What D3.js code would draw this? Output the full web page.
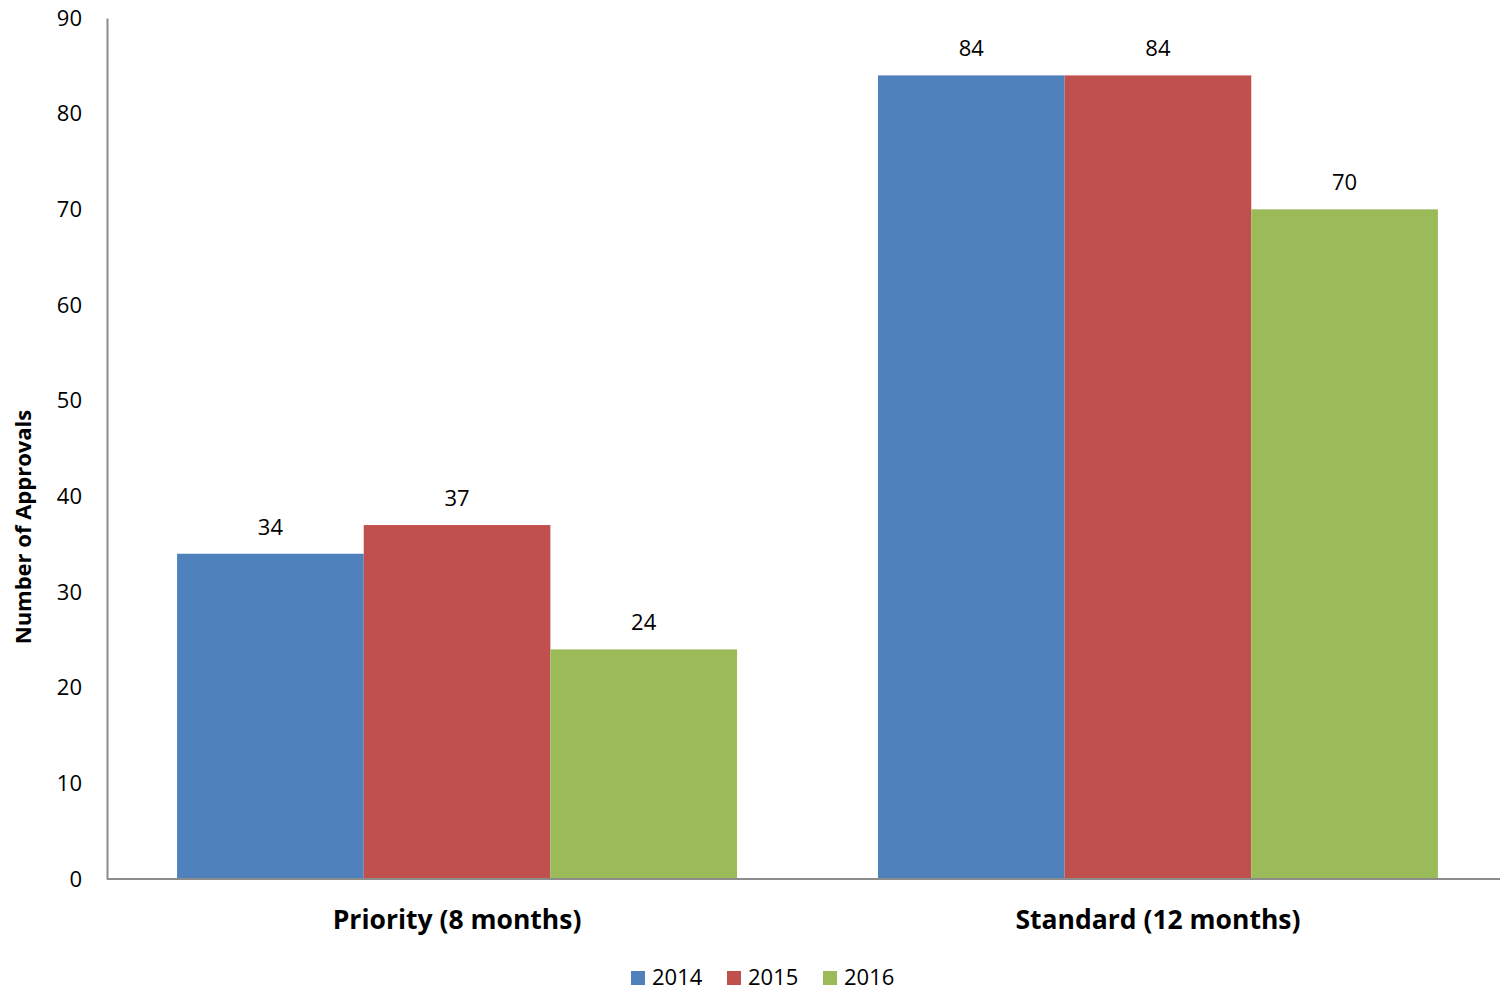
<!DOCTYPE html>
<html><head><meta charset="utf-8">
<script src="https://cdn.jsdelivr.net/npm/d3@7"></script>
<style>body{margin:0;background:#fff}svg{display:block}text{font-family:"Open Sans",sans-serif;fill:#000}</style>
</head><body><svg id="c" width="1501" height="990"></svg>
<script>
const categories = ["Priority (8 months)", "Standard (12 months)"];
const seriesNames = ["2014", "2015", "2016"];
const values2014 = [34, 84];
const values2015 = [37, 84];
const values2016 = [24, 70];
const yTicks = [0,10,20,30,40,50,60,70,80,90];
const colors = ["#4F81BD", "#C0504D", "#9BBB59"];
const seriesValues = [values2014, values2015, values2016];

const svg = d3.select("#c");
const L = 107, R = 1500, T = 18, B = 879;
const y = d3.scaleLinear().domain([0, 90]).range([B, T]);
const x0 = d3.scaleBand().domain(categories).range([L, 1508]).paddingInner(0.2011).paddingOuter(0.1);
const x1 = d3.scaleBand().domain(seriesNames).range([0, x0.bandwidth()]);

const data = categories.map((c, i) => seriesNames.map((s, j) => ({c, s, v: seriesValues[j][i], color: colors[j]})));

const g = svg.append("g");
g.selectAll("g.grp").data(data).join("g").attr("class","grp")
  .attr("transform", d => `translate(${x0(d[0].c)},0)`)
  .each(function(d){
    const gg = d3.select(this);
    gg.selectAll("rect").data(d).join("rect")
      .attr("x", e => x1(e.s)).attr("width", x1.bandwidth())
      .attr("y", e => y(e.v)).attr("height", e => y(0) - y(e.v))
      .attr("fill", e => e.color);
    gg.selectAll("text").data(d).join("text")
      .attr("x", e => x1(e.s) + x1.bandwidth()/2).attr("y", e => y(e.v) - 19)
      .attr("text-anchor","middle").style("font-size","22px").text(e => e.v);
  });

// y axis
const yAxis = d3.axisLeft(y).tickValues(yTicks).tickSize(0).tickPadding(25);
const ya = svg.append("g").attr("transform", `translate(${L},0)`).call(yAxis);
ya.select(".domain").attr("stroke","#8c8c8c").attr("stroke-width",2);
ya.selectAll("text").style("font-size","22px").style("font-family","'Open Sans',sans-serif").attr("fill","#000");

// x axis
const xAxis = d3.axisBottom(x0).tickSize(0).tickPadding(31);
const xa = svg.append("g").attr("transform", `translate(0,${B})`).call(xAxis);
xa.select(".domain").attr("d", `M${L},0H${R}`).attr("stroke","#8c8c8c").attr("stroke-width",2);
xa.selectAll("text").style("font-size","26.5px").style("font-weight","bold").style("font-family","'Open Sans',sans-serif").attr("fill","#000");

// y title
svg.append("text").attr("transform","translate(31,527) rotate(-90)")
  .attr("text-anchor","middle").style("font-size","22px").style("font-weight","bold").text("Number of Approvals");

// legend
const leg = svg.append("g");
const legX = [631, 727, 823];
seriesNames.forEach((s, i) => {
  leg.append("rect").attr("x", legX[i]).attr("y", 971).attr("width", 14).attr("height", 14).attr("fill", colors[i]);
  leg.append("text").attr("x", legX[i] + 21).attr("y", 985).style("font-size","22px").text(s);
});
</script></body></html>
